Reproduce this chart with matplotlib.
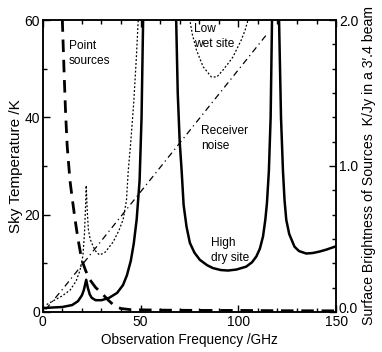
import matplotlib
matplotlib.use("Agg")
import matplotlib.pyplot as plt
import matplotlib.transforms as mtransforms
from matplotlib.ticker import MultipleLocator, FormatStrFormatter

plt.rcParams['font.family'] = ['Liberation Sans', 'DejaVu Sans']

# High dry site (sky temperature, K)
dry_freq = [1, 5, 10, 15, 18, 20, 21, 22.2, 23, 24, 25, 27, 30, 34, 38, 41, 43, 45,
            46.5, 48, 49.5, 50.5, 51.3, 52, 56, 60, 64, 67.5, 68.2, 69, 70, 71, 72,
            73.5, 75.2, 77.5, 80.3, 84, 87, 91, 94.7, 99, 104, 107, 109.2, 111, 112.6,
            113.8, 114.6, 115.6, 116.5, 117.2, 117.6, 118.75, 120.2, 120.8, 121.8, 122.8,
            123.6, 124.5, 126, 128.7, 131, 134.7, 138, 141.5, 145, 150]
dry_temp = [0.8, 0.9, 1.0, 1.4, 2.2, 3.4, 4.5, 6.6, 5.0, 3.6, 2.9, 2.4, 2.4, 2.9, 3.9,
            5.5, 7.5, 10.5, 14, 19, 27, 40, 60, 90, 230, 270, 230, 90, 60, 45, 35, 29, 22,
            17.5, 14.2, 12.2, 10.7, 9.6, 9.0, 8.6, 8.5, 8.7, 9.3, 10.2, 11.4, 13, 15.5,
            19, 22.3, 29, 40, 60, 90, 250, 90, 60, 40, 29,
            23, 18.9, 16, 13.4, 12.5, 12.0, 12.1, 12.4, 12.8, 13.5]

# Low wet site (sky temperature, K)
wet_freq = [2, 5, 10, 14, 17, 19, 20.5, 21.3, 21.8, 22.2, 22.7, 23.3, 24.2, 25.8, 27.5,
            29.2, 32, 36, 39, 41.1, 42.8, 43.7, 45, 46.5, 47.8, 48.8, 50, 55, 60, 70,
            74, 75.2, 76.5, 78.6, 82, 86.2, 89, 92.1, 95, 97.2, 101.5, 103.5, 104.9,
            106, 110, 118.75, 130, 150]
wet_temp = [1.5, 2.2, 3.3, 4.5, 6.3, 8.5, 11.5, 16, 21, 26, 21, 17, 15, 13.4, 12.2,
            11.7, 12.3, 14.4, 16.8, 19, 23, 29, 35, 43, 52, 60, 80, 250, 290, 250,
            80, 60, 57, 53.8, 50.4, 48.3, 48.3, 49.7, 51.2, 52.4, 55.9, 58, 60,
            63, 80, 290, 200, 150]

# Receiver noise (K)
rx_freq = [1.5, 10, 115]
rx_temp = [0.5, 4.6, 57.3]

# Point sources (surface brightness, K/Jy in a 3'.4 beam)
ps_freq = [9.6, 10, 11, 11.7, 12.5, 13.9, 15, 16.5, 18, 19.9, 22, 24.1, 27, 30, 33.5,
           37, 40, 45, 60, 80, 100, 120, 150]
ps_bright = [2.2, 2.0, 1.6, 1.35, 1.133, 0.9, 0.783, 0.633, 0.5, 0.357, 0.28, 0.22,
             0.167, 0.13, 0.08, 0.037, 0.023, 0.015, 0.012, 0.01, 0.01, 0.008, 0.007]

fig = plt.figure(figsize=(3.82, 3.52), dpi=100)
ax = fig.add_axes([0.112, 0.114, 0.768, 0.829])

ax.plot(dry_freq, dry_temp, color='black', lw=1.8)
ax.plot(wet_freq, wet_temp, color='black', lw=0.9, ls=(0, (1.5, 1.6)))
ax.plot(rx_freq, rx_temp, color='black', lw=0.9, ls=(0, (5, 3, 1, 3)))

ax.set_xlim(0, 150)
ax.set_ylim(0, 60)
ax.xaxis.set_major_locator(MultipleLocator(50))
ax.xaxis.set_minor_locator(MultipleLocator(10))
ax.yaxis.set_major_locator(MultipleLocator(20))
ax.yaxis.set_minor_locator(MultipleLocator(10))
ax.tick_params(which='both', direction='in', top=True, right=False, width=1,
               labelsize=10, pad=2)
ax.tick_params(which='major', length=5)
ax.tick_params(which='minor', length=3)
ax.set_xlabel('Observation Frequency /GHz', fontsize=9.8, labelpad=3)
ax.set_ylabel('Sky Temperature /K', fontsize=11, labelpad=1)

ax2 = ax.twinx()
ax2.plot(ps_freq, ps_bright, color='black', lw=2, ls=(0, (4.5, 2.8)))
ax2.set_ylim(0, 2.0)
ax2.yaxis.set_major_locator(MultipleLocator(1.0))
ax2.yaxis.set_minor_locator(MultipleLocator(1 / 6))
ax2.yaxis.set_major_formatter(FormatStrFormatter('%.1f'))
ax2.tick_params(which='both', direction='in', width=1, labelsize=10, pad=2)
ax2.tick_params(which='major', length=5)
ax2.tick_params(which='minor', length=3)
ax2.set_ylabel("Surface Brightness of Sources  K/Jy in a 3\u2032.4 beam",
               fontsize=10.2, labelpad=3)

# nudge the bottom right label up a little so it clears the "150"
fig.canvas.draw()
shift = mtransforms.ScaledTranslation(0, 3 / 72, fig.dpi_scale_trans)
for lab in ax2.get_yticklabels():
    if lab.get_text() == '0.0':
        lab.set_transform(lab.get_transform() + shift)

for a in (ax, ax2):
    for s in a.spines.values():
        s.set_linewidth(1.1)

ax.text(13.3, 53.2, 'Point\nsources', fontsize=8.6, va='center', ha='left', linespacing=1.35)
ax.text(77.2, 56.6, 'Low\nwet site', fontsize=8.6, va='center', ha='left', linespacing=1.35)
ax.text(81.1, 35.6, 'Receiver\nnoise', fontsize=8.6, va='center', ha='left', linespacing=1.35)
ax.text(85.9, 12.7, 'High\ndry site', fontsize=8.6, va='center', ha='left', linespacing=1.35)

fig.savefig('out.png', dpi=100)
